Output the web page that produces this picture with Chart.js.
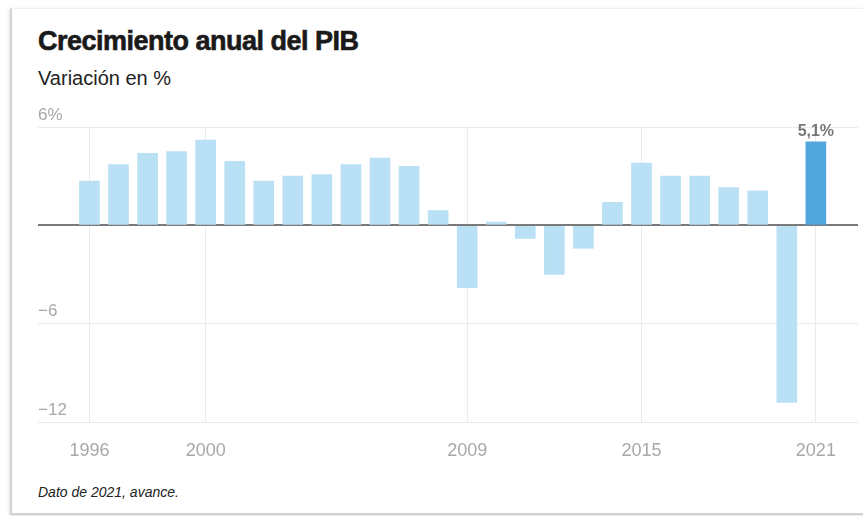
<!DOCTYPE html>
<html>
<head>
<meta charset="utf-8">
<script src="https://cdn.jsdelivr.net/npm/chart.js@4"></script>
<style>
  html, body { margin:0; padding:0; background:#fff; width:863px; height:516px; overflow:hidden; }
  #card { position:absolute; left:10px; top:8px; width:900px; height:504px; background:#fff;
          border-left:2px solid #d2d2d2; border-top:1px solid #efefef; border-bottom:2px solid #d2d2d2;
          box-shadow:-1px 1px 3px rgba(0,0,0,0.12); }
  .t { position:absolute; left:38px; white-space:nowrap; font-family:"Liberation Sans", Arial, sans-serif; }
  #title { top:26px; font-size:27px; font-weight:900; color:#1a1a1a; letter-spacing:-0.5px; -webkit-text-stroke:0.6px #1a1a1a; }
  #sub { top:67px; font-size:20px; color:#222; }
  #note { top:484px; font-size:14px; font-style:italic; color:#222; }
  #wrap { position:absolute; left:0; top:0; width:863px; height:516px; }
</style>
</head>
<body>
<div id="card"></div>
<div class="t" id="title">Crecimiento anual del PIB</div>
<div class="t" id="sub">Variación en %</div>
<div class="t" id="note">Dato de 2021, avance.</div>
<div id="wrap"><canvas id="c" width="863" height="516"></canvas></div>
<script>
const years = [1996,1997,1998,1999,2000,2001,2002,2003,2004,2005,2006,2007,2008,2009,2010,2011,2012,2013,2014,2015,2016,2017,2018,2019,2020,2021];
const growth = [2.7,3.7,4.4,4.5,5.2,3.9,2.7,3.0,3.1,3.7,4.1,3.6,0.9,-3.8,0.2,-0.8,-3.0,-1.4,1.4,3.8,3.0,3.0,2.3,2.1,-10.8,5.1];
const highlightYear = 2021;
const highlightLabel = '5,1%';
const xTickValues = [1996,2000,2009,2015,2021];
const yTickValues = [-12,-6,0,6];
const yTickLabels = ['\u221212','\u22126','','6%'];

const colorLight = '#b9e0f4';
const colorDark = '#52a6de';

const labelPlugin = {
  id: 'hlLabel',
  afterDatasetsDraw(chart) {
    const meta = chart.getDatasetMeta(0);
    const idx = years.indexOf(highlightYear);
    const el = meta.data[idx];
    const ctx = chart.ctx;
    ctx.save();
    ctx.font = 'bold 16px "Liberation Sans", Arial, sans-serif';
    ctx.fillStyle = '#777';
    ctx.textAlign = 'center';
    ctx.textBaseline = 'alphabetic';
    ctx.fillText(highlightLabel, el.x, el.y - 6);
    ctx.restore();
  }
};

new Chart(document.getElementById('c'), {
  type: 'bar',
  data: {
    datasets: [{
      data: years.map((y, i) => ({ x: y, y: growth[i] })),
      backgroundColor: years.map(y => y === highlightYear ? colorDark : colorLight),
      barThickness: 20,
      borderWidth: 0
    }]
  },
  options: {
    responsive: false,
    animation: false,
    layout: { padding: { left: 38, right: 5, top: 127, bottom: 54 } },
    plugins: { legend: { display: false }, tooltip: { enabled: false } },
    scales: {
      x: {
        type: 'linear',
        min: 1994.23,
        max: 2022.45,
        offset: false,
        afterBuildTicks: s => { s.ticks = xTickValues.map(v => ({ value: v })); },
        afterFit: s => { s.height = 40; },
        grid: { offset: false, color: '#ebebeb', lineWidth: 1, drawTicks: false },
        border: { display: false },
        ticks: {
          padding: 18,
          color: '#a8a8a8',
          font: { family: '"Liberation Sans", Arial, sans-serif', size: 18 },
          callback: v => String(v),
          maxRotation: 0,
          autoSkip: false
        }
      },
      y: {
        min: -12,
        max: 6,
        afterBuildTicks: s => { s.ticks = yTickValues.map(v => ({ value: v })); },
        afterFit: s => { s.width = 0; },
        grid: {
          color: c => c.tick && c.tick.value === 0 ? '#7a7a7a' : '#ebebeb',
          lineWidth: c => c.tick && c.tick.value === 0 ? 2 : 1,
          drawTicks: false
        },
        border: { display: false },
        ticks: {
          mirror: true,
          padding: 0,
          labelOffset: -12,
          color: '#a8a8a8',
          font: { family: '"Liberation Sans", Arial, sans-serif', size: 17 },
          callback: v => { const i = yTickValues.indexOf(v); return i >= 0 ? yTickLabels[i] : ''; }
        }
      }
    }
  },
  plugins: [labelPlugin]
});
</script>
</body>
</html>
